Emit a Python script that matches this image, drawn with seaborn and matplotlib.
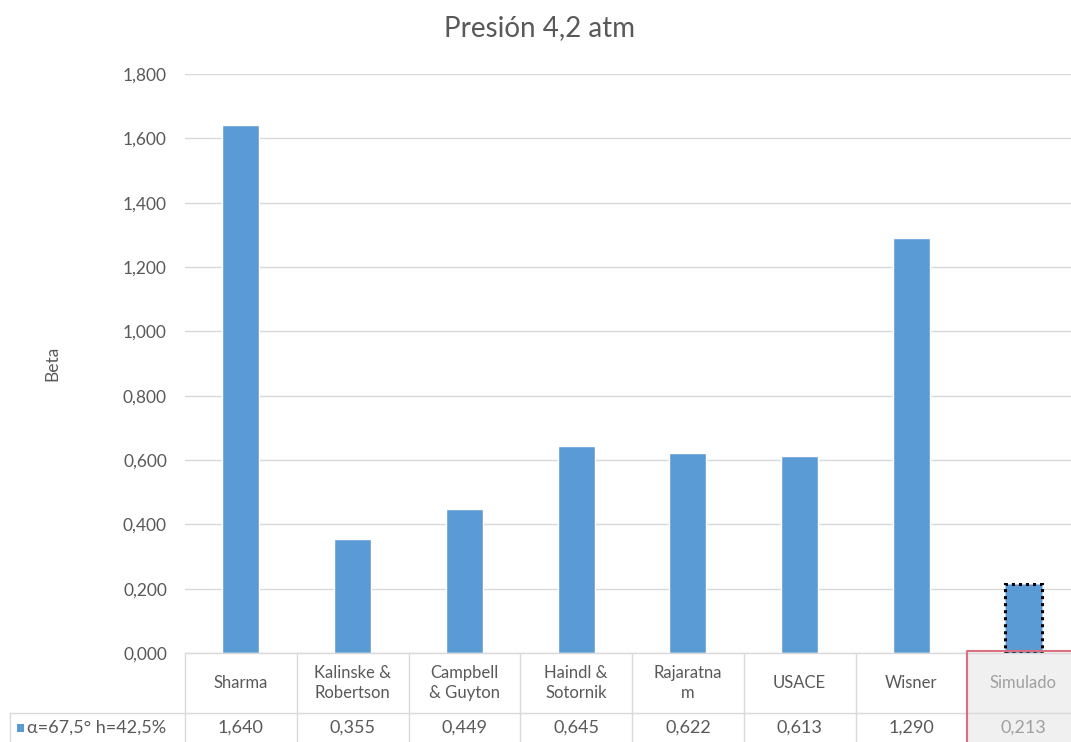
import matplotlib
matplotlib.use("Agg")
import matplotlib.pyplot as plt
import matplotlib.transforms as mtransforms
from matplotlib.patches import Rectangle
import seaborn as sns
import pandas as pd

categories = ["Sharma", "Kalinske &\nRobertson", "Campbell\n& Guyton", "Haindl &\nSotornik",
              "Rajaratna\nm", "USACE", "Wisner", "Simulado"]
values = [1.640, 0.355, 0.449, 0.645, 0.622, 0.613, 1.290, 0.213]
value_labels = ["1,640", "0,355", "0,449", "0,645", "0,622", "0,613", "1,290", "0,213"]
series_name = "α=67,5° h=42,5%"
yticks = [0.0, 0.2, 0.4, 0.6, 0.8, 1.0, 1.2, 1.4, 1.6, 1.8]
title = "Presión 4,2 atm"
ylabel = "Beta"

sns.set_theme(style="white")
plt.rcParams["font.family"] = ["Lato", "DejaVu Sans"]

BAR = "#5b9bd5"
TXT = "#595959"
GRID = "#d9d9d9"

W, H = 1071, 742
fig = plt.figure(figsize=(W / 100, H / 100), dpi=100)
ax_l, ax_r, ax_t, ax_b = 185, 1079, 74, 653
ax = fig.add_axes([ax_l / W, 1 - ax_b / H, (ax_r - ax_l) / W, (ax_b - ax_t) / H])

df = pd.DataFrame({"cat": range(len(categories)), "val": values})
sns.barplot(data=df, x="cat", y="val", color=BAR, width=0.33, ax=ax, saturation=1)
ax.set_xlim(-0.5, len(categories) - 0.5)
ax.set_ylim(0, 1.8)
ax.set_yticks(yticks)
ax.set_yticklabels([f"{t:.3f}".replace(".", ",") for t in yticks], color=TXT, fontsize=12.5)
ax.tick_params(axis="y", length=0, pad=13)
ax.set_xticks([])
ax.set_xlabel("")
ax.set_ylabel(ylabel, color=TXT, fontsize=12.5, labelpad=45)
for s in ax.spines.values():
    s.set_visible(False)
ax.yaxis.grid(True, color=GRID, linewidth=1)
ax.set_axisbelow(True)

# dotted outline on the selected (last) bar
last = ax.patches[-1]
last.set_edgecolor("black")
last.set_linestyle((0, (1, 1.3)))
last.set_linewidth(2.2)

fig.text(540 / W, 1 - 28 / H, title, ha="center", va="center", fontsize=20, color=TXT)

# data table under the axis
px = 1.0 / (ax_b - ax_t)  # one pixel in axes units
trans = mtransforms.blended_transform_factory(ax.transData, ax.transAxes)
row1_top, row1_bot = 0.0, -60 * px
row2_bot = -95 * px
left_cell = -0.5 - 175 / 111.75
n = len(categories)

# highlighted last column
ax.add_patch(Rectangle((n - 1.5, row2_bot), 1.0, -row2_bot, transform=trans,
                       facecolor="#f0f0f0", edgecolor="none", clip_on=False, zorder=0))

ax.plot([-0.5, n - 0.5], [row1_top, row1_top], transform=trans, color=GRID, lw=1, clip_on=False)
ax.plot([left_cell, n - 0.5], [row1_bot, row1_bot], transform=trans, color=GRID, lw=1, clip_on=False)
ax.plot([left_cell, left_cell], [row1_bot, row2_bot], transform=trans, color=GRID, lw=1, clip_on=False)
for i in range(n):
    ax.plot([i - 0.5, i - 0.5], [row1_top, row2_bot], transform=trans, color=GRID, lw=1, clip_on=False)

ax.plot([n - 1.5, n - 1.5, n - 0.5], [row2_bot, 2 * px, 2 * px], transform=trans,
        color="#d9707e", lw=1.5, clip_on=False)

for i, (c, v) in enumerate(zip(categories, value_labels)):
    col = "#a0a0a0" if i == n - 1 else TXT
    ax.text(i, -30 * px, c, transform=trans, ha="center", va="center",
            fontsize=12, color=col, linespacing=1.35)
    ax.text(i, -75 * px, v, transform=trans, ha="center", va="center",
            fontsize=13, color=col)

# series key in the first cell of the value row
ax.add_patch(Rectangle((left_cell + 0.06, -79 * px), 0.065, 8 * px,
                       transform=trans, facecolor=BAR, edgecolor="none", clip_on=False))
ax.text(left_cell + 0.15, -75 * px, series_name, transform=trans,
        ha="left", va="center", fontsize=13, color=TXT)

fig.savefig("out.png", dpi=100)
